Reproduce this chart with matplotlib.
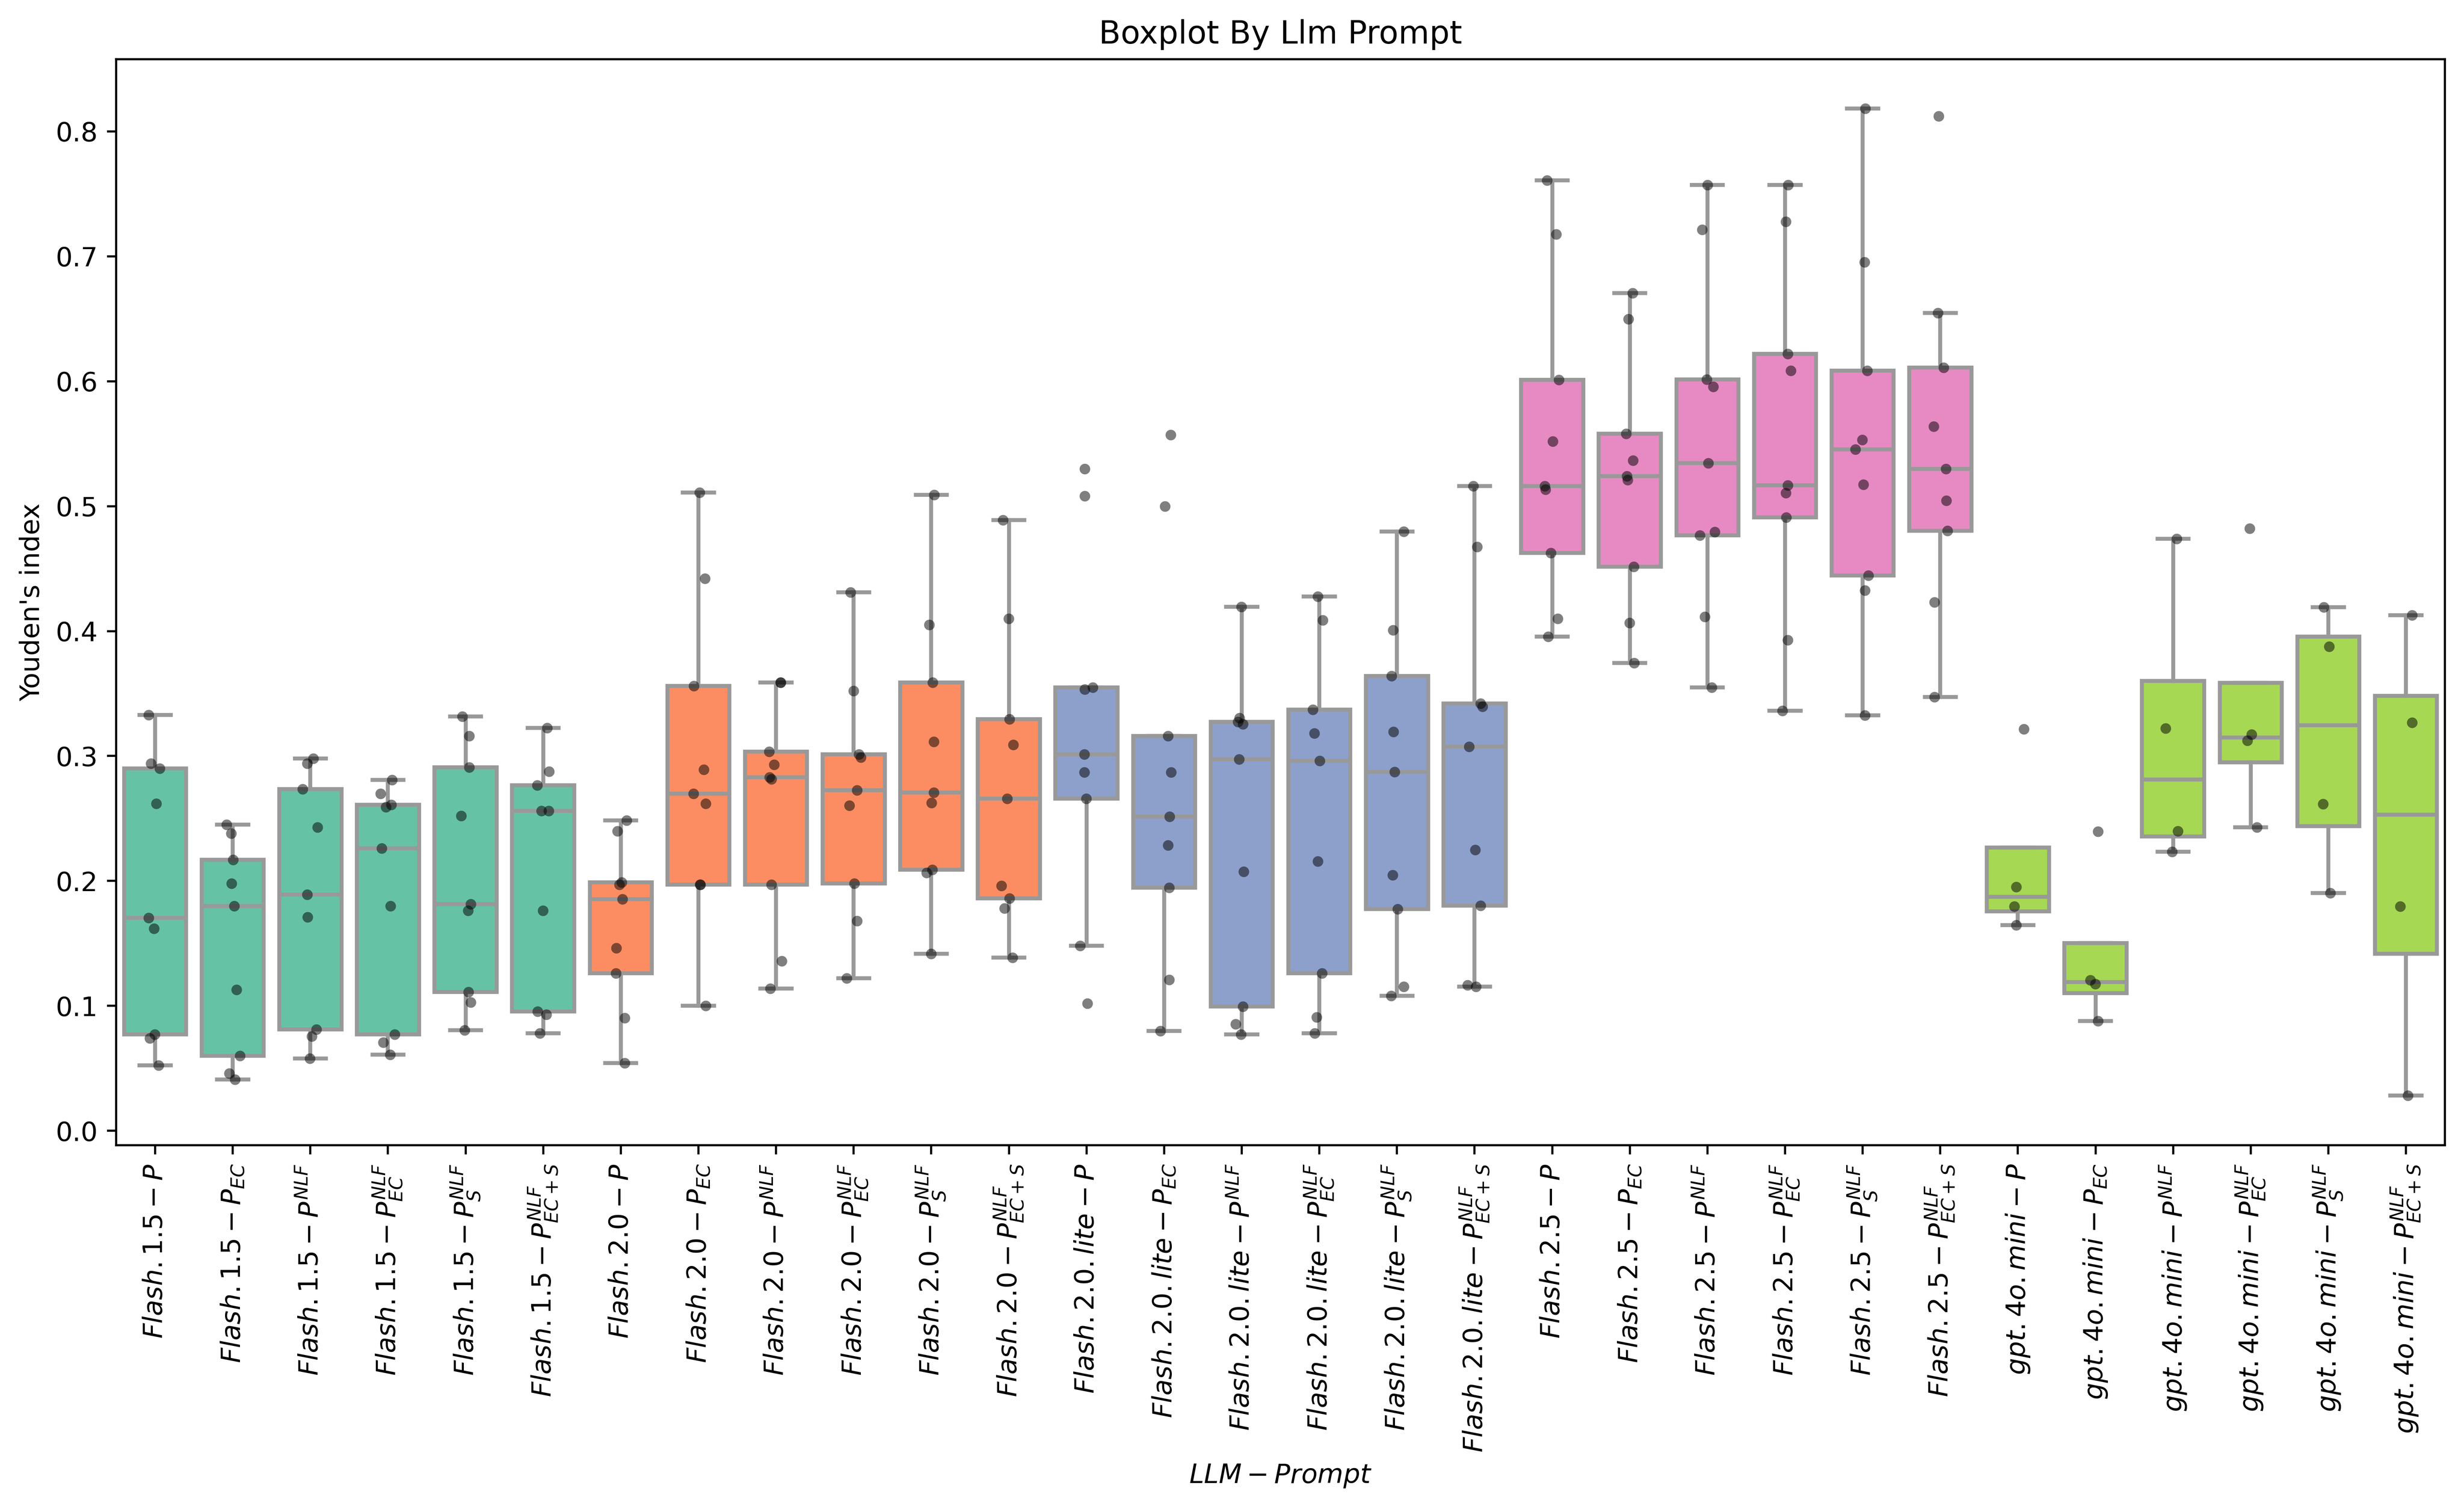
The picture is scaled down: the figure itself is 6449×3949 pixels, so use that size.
import matplotlib
matplotlib.use("Agg")
import matplotlib.pyplot as plt
import numpy as np

# model groups and prompt variants (mathtext labels)
models = ["Flash.1.5", "Flash.2.0", "Flash.2.0.lite", "Flash.2.5", "gpt.4o.mini"]
prompts = ["P", "P_{EC}", "P^{NLF}", "P^{NLF}_{EC}", "P^{NLF}_{S}", "P^{NLF}_{EC+S}"]
model_colors = ["#66c2a5", "#fc8d62", "#8da0cb", "#e78ac3", "#a6d854"]

# Youden's index per run, one list per prompt, in the order of `prompts`
flash_15 = [
    [0.333, 0.294, 0.290, 0.262, 0.1705, 0.162, 0.077, 0.074, 0.0525],
    [0.245, 0.238, 0.217, 0.198, 0.180, 0.113, 0.060, 0.046, 0.041],
    [0.298, 0.294, 0.2735, 0.243, 0.189, 0.171, 0.081, 0.0755, 0.058],
    [0.281, 0.270, 0.261, 0.259, 0.226, 0.180, 0.077, 0.0706, 0.061],
    [0.3315, 0.316, 0.291, 0.252, 0.1814, 0.1763, 0.111, 0.1027, 0.0805],
    [0.3226, 0.2875, 0.2766, 0.256, 0.256, 0.1763, 0.0955, 0.0931, 0.0781],
]
flash_20 = [
    [0.2483, 0.240, 0.1988, 0.197, 0.1855, 0.1463, 0.126, 0.0904, 0.0542],
    [0.511, 0.442, 0.356, 0.289, 0.270, 0.262, 0.197, 0.197, 0.100],
    [0.359, 0.359, 0.3035, 0.293, 0.283, 0.2816, 0.197, 0.136, 0.114],
    [0.431, 0.352, 0.3015, 0.299, 0.2726, 0.2605, 0.198, 0.168, 0.122],
    [0.509, 0.405, 0.359, 0.3116, 0.2707, 0.2625, 0.209, 0.2064, 0.1417],
    [0.489, 0.410, 0.3296, 0.309, 0.266, 0.196, 0.186, 0.178, 0.1385],
]
flash_20_lite = [
    [0.530, 0.508, 0.355, 0.3533, 0.3015, 0.287, 0.266, 0.148, 0.102],
    [0.557, 0.500, 0.316, 0.287, 0.2516, 0.2286, 0.1947, 0.121, 0.080],
    [0.4195, 0.3303, 0.3275, 0.3256, 0.2975, 0.2075, 0.0995, 0.0855, 0.0773],
    [0.4277, 0.4086, 0.3373, 0.3182, 0.2963, 0.2157, 0.126, 0.0909, 0.078],
    [0.4796, 0.4008, 0.3642, 0.3193, 0.2874, 0.2047, 0.1774, 0.1155, 0.1081],
    [0.5162, 0.4675, 0.342, 0.3396, 0.3076, 0.225, 0.1802, 0.1166, 0.1155],
]
flash_25 = [
    [0.7609, 0.7178, 0.6011, 0.5518, 0.516, 0.5133, 0.4626, 0.41, 0.3957],
    [0.6707, 0.6499, 0.5581, 0.5365, 0.5239, 0.521, 0.4514, 0.4066, 0.3745],
    [0.7572, 0.7214, 0.6015, 0.5955, 0.5345, 0.4795, 0.4766, 0.4116, 0.355],
    [0.7572, 0.7277, 0.622, 0.6084, 0.5167, 0.5107, 0.4911, 0.3927, 0.3361],
    [0.8182, 0.6953, 0.6084, 0.5531, 0.5455, 0.5173, 0.4444, 0.4325, 0.3327],
    [0.8122, 0.6548, 0.6108, 0.5637, 0.5299, 0.5044, 0.4802, 0.4232, 0.3473],
]
gpt_4o_mini = [
    [0.3217, 0.1951, 0.1795, 0.1646],
    [0.2395, 0.1205, 0.1175, 0.088],
    [0.4738, 0.3223, 0.2398, 0.2233],
    [0.482, 0.3174, 0.3124, 0.2428],
    [0.4191, 0.3876, 0.2617, 0.1904],
    [0.4128, 0.3266, 0.1795, 0.0281],
]

all_groups = [flash_15, flash_20, flash_20_lite, flash_25, gpt_4o_mini]

labels = []
values = []
colors = []
for m, grp, c in zip(models, all_groups, model_colors):
    for p, vals in zip(prompts, grp):
        labels.append("$" + m + "-" + p + "$")
        values.append(vals)
        colors.append(c)

fig = plt.figure(figsize=(6449 / 500, 3949 / 500), dpi=500)
ax = fig.add_subplot(111)
fig.subplots_adjust(left=0.0472, right=0.9922, top=0.9607, bottom=0.2412)

pos = np.arange(len(values))
line_kw = dict(color="#999999", linewidth=1.5)
bp = ax.boxplot(values, positions=pos, widths=0.8, whis=1.5, showfliers=False,
                patch_artist=True, boxprops=dict(edgecolor="#999999", linewidth=1.5),
                whiskerprops=line_kw, capprops=line_kw, medianprops=line_kw,
                capwidths=0.4, zorder=2)
for patch, c in zip(bp["boxes"], colors):
    patch.set_facecolor(c)

# strip points with a small horizontal jitter
rng = np.random.default_rng(3)
for i, vals in enumerate(values):
    xj = i + rng.uniform(-0.1, 0.1, len(vals))
    ax.scatter(xj, vals, s=16, color="black", alpha=0.5, linewidths=0, zorder=3)

ax.set_xlim(-0.5, len(values) - 0.5)
ax.set_xticks(pos)
ax.set_xticklabels(labels, rotation=90)
ax.set_title("Boxplot By Llm Prompt")
ax.set_xlabel("$LLM-Prompt$")
ax.set_ylabel("Youden's index")

fig.savefig("out.png", dpi=500)
